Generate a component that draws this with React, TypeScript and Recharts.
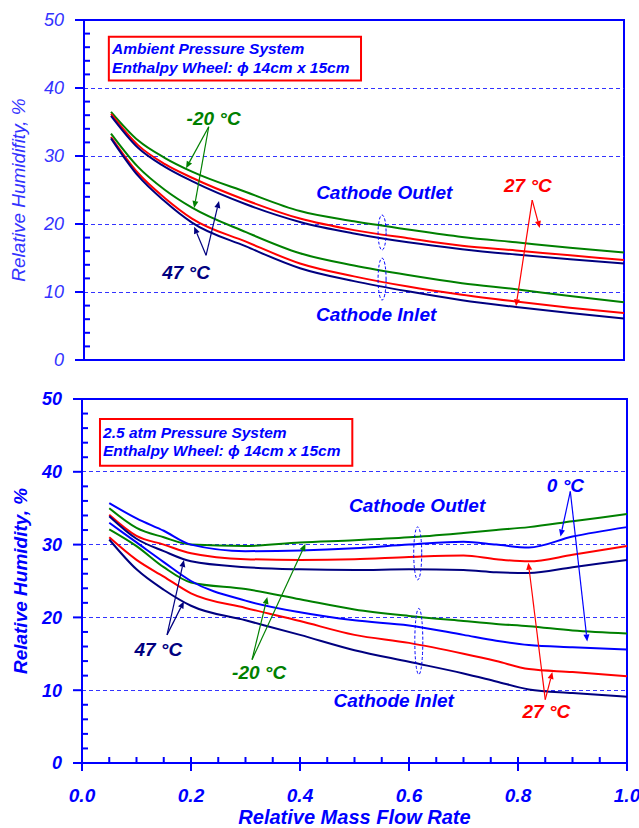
import React from "react";
import {
  LineChart,
  Line,
  XAxis,
  YAxis,
  ReferenceLine,
  ReferenceArea,
  ReferenceDot,
} from "recharts";

const BLUE = "#0000FF";
const LIGHT_BLUE = "#3333FF";
const GREEN = "#008000";
const RED = "#FF0000";
const NAVY = "#000080";
const FONT = "'Liberation Sans', Arial, Helvetica, sans-serif";

// axis ticks
const yTicks = [0, 2, 4, 6, 8, 10, 12, 14, 16, 18, 20, 22, 24, 26, 28, 30, 32, 34, 36, 38, 40, 42, 44, 46, 48, 50];
const xTicks = [0, 0.05, 0.1, 0.15, 0.2, 0.25, 0.3, 0.35, 0.4, 0.45, 0.5, 0.55, 0.6, 0.65, 0.7, 0.75, 0.8, 0.85, 0.9, 0.95, 1];
const gridValues = [10, 20, 30, 40];

// top panel: ambient pressure
const topX = [0.05, 0.1, 0.15, 0.2, 0.3, 0.4, 0.5, 0.6, 0.7, 0.8, 0.9, 1.0];
const topOutletM20 = [36.5, 32.3, 29.7, 27.7, 24.7, 21.9, 20.4, 19.2, 18.1, 17.3, 16.5, 15.8];
const topOutlet27 = [36.2, 31.6, 28.8, 26.8, 23.5, 20.8, 19.1, 17.9, 16.8, 16.1, 15.4, 14.7];
const topOutlet47 = [35.9, 31.2, 28.4, 26.3, 22.9, 20.3, 18.6, 17.3, 16.3, 15.5, 14.8, 14.2];
const topInletM20 = [33.3, 28.4, 25.0, 22.4, 18.8, 15.7, 13.9, 12.5, 11.3, 10.4, 9.4, 8.5];
const topInlet27 = [32.8, 27.5, 23.8, 20.8, 17.4, 14.2, 12.3, 10.8, 9.6, 8.6, 7.7, 6.9];
const topInlet47 = [32.6, 27.1, 23.3, 20.2, 16.7, 13.5, 11.6, 10.1, 8.8, 7.8, 6.9, 6.1];

// bottom panel: 2.5 atm
const botX = [0.05, 0.1, 0.15, 0.2, 0.3, 0.4, 0.5, 0.6, 0.7, 0.76, 0.82, 0.9, 1.0];
const botOutletM20 = [35.0, 32.3, 31.0, 30.0, 29.8, 30.3, 30.6, 31.0, 31.6, 32.0, 32.4, 33.2, 34.2];
const botOutlet0 = [35.7, 33.6, 31.9, 30.0, 29.1, 29.2, 29.5, 30.0, 30.4, 30.0, 29.6, 31.1, 32.4];
const botOutlet27 = [34.1, 31.2, 30.0, 28.8, 28.0, 27.9, 28.0, 28.3, 28.5, 28.0, 27.7, 28.6, 29.8];
const botOutlet47 = [33.9, 30.8, 29.1, 27.7, 26.9, 26.6, 26.5, 26.6, 26.5, 26.2, 26.1, 26.9, 27.9];
const botInletM20 = [32.1, 29.8, 26.9, 24.8, 23.9, 22.5, 21.1, 20.2, 19.5, 19.1, 18.8, 18.2, 17.8];
const botInlet0 = [33.0, 30.3, 27.6, 25.0, 22.3, 20.7, 19.6, 18.9, 17.6, 16.8, 16.2, 15.9, 15.6];
const botInlet27 = [31.0, 27.9, 25.6, 23.3, 21.3, 19.5, 17.6, 16.5, 15.0, 14.0, 12.9, 12.5, 11.9];
const botInlet47 = [30.7, 26.6, 23.8, 21.6, 19.6, 17.6, 15.5, 13.9, 12.3, 11.2, 10.1, 9.6, 9.1];

const topData = topX.map((x, i) => ({
  x,
  oM20: topOutletM20[i],
  o27: topOutlet27[i],
  o47: topOutlet47[i],
  iM20: topInletM20[i],
  i27: topInlet27[i],
  i47: topInlet47[i],
}));

const botData = botX.map((x, i) => ({
  x,
  oM20: botOutletM20[i],
  o0: botOutlet0[i],
  o27: botOutlet27[i],
  o47: botOutlet47[i],
  iM20: botInletM20[i],
  i0: botInlet0[i],
  i27: botInlet27[i],
  i47: botInlet47[i],
}));

// annotations (data coordinates)
const topLabels = [
  { x: 0.24, y: 35.6, text: "-20 °C", color: GREEN },
  { x: 0.189, y: 12.9, text: "47 °C", color: NAVY },
  { x: 0.822, y: 25.7, text: "27 °C", color: RED },
  { x: 0.556, y: 24.7, text: "Cathode Outlet", color: BLUE },
  { x: 0.541, y: 6.8, text: "Cathode Inlet", color: BLUE },
];
const topArrows = [
  { x1: 0.231, y1: 34.3, x2: 0.189, y2: 28.2, color: GREEN },
  { x1: 0.231, y1: 34.3, x2: 0.204, y2: 22.35, color: GREEN },
  { x1: 0.226, y1: 15.4, x2: 0.204, y2: 19.6, color: NAVY },
  { x1: 0.226, y1: 15.4, x2: 0.25, y2: 23.4, color: NAVY },
  { x1: 0.83, y1: 23.5, x2: 0.844, y2: 19.4, color: RED },
  { x1: 0.83, y1: 23.5, x2: 0.8, y2: 7.9, color: RED },
];
const topEllipses = [
  { x: 0.552, y: 18.75, ry: 17.5 },
  { x: 0.552, y: 11.9, ry: 21 },
];

const botLabels = [
  { x: 0.887, y: 38.1, text: "0 °C", color: BLUE },
  { x: 0.14, y: 15.6, text: "47 °C", color: NAVY },
  { x: 0.325, y: 12.5, text: "-20 °C", color: GREEN },
  { x: 0.852, y: 7.1, text: "27 °C", color: RED },
  { x: 0.615, y: 35.4, text: "Cathode Outlet", color: BLUE },
  { x: 0.572, y: 8.7, text: "Cathode Inlet", color: BLUE },
];
const botArrows = [
  { x1: 0.896, y1: 37.3, x2: 0.878, y2: 31.1, color: BLUE },
  { x1: 0.896, y1: 37.3, x2: 0.927, y2: 16.7, color: BLUE },
  { x1: 0.156, y1: 17.6, x2: 0.187, y2: 27.9, color: NAVY },
  { x1: 0.156, y1: 17.6, x2: 0.187, y2: 22.2, color: NAVY },
  { x1: 0.312, y1: 14.2, x2: 0.34, y2: 22.8, color: GREEN },
  { x1: 0.312, y1: 14.2, x2: 0.41, y2: 30.1, color: GREEN },
  { x1: 0.85, y1: 8.7, x2: 0.819, y2: 27.5, color: RED },
  { x1: 0.85, y1: 8.7, x2: 0.863, y2: 12.5, color: RED },
];
const botEllipses = [
  { x: 0.616, y: 28.8, ry: 26.5 },
  { x: 0.618, y: 16.7, ry: 33 },
];

const makeYTick = (bold: boolean, color: string) => (props: any) => {
  const { x, y, payload } = props;
  const v = payload.value;
  const major = v % 10 === 0;
  return (
    <g>
      <line
        x1={major ? x - 9 : x}
        x2={major ? x : x + 6}
        y1={y}
        y2={y}
        stroke={BLUE}
        strokeWidth={2}
      />
      {major && (
        <text
          x={x - 20}
          y={y}
          dy="0.36em"
          textAnchor="end"
          fill={color}
          fontSize={18}
          fontStyle="italic"
          fontWeight={bold ? "bold" : "normal"}
          fontFamily={FONT}
        >
          {v}
        </text>
      )}
    </g>
  );
};

const XTick = (props: any) => {
  const { x, y, payload } = props;
  const v = payload.value;
  const major = Math.round(v * 100) % 20 === 0;
  return (
    <g>
      <line x1={x} x2={x} y1={y - 6} y2={major ? y + 8 : y} stroke={BLUE} strokeWidth={2} />
      {major && (
        <text
          x={x}
          y={y + 32}
          dy="0.36em"
          textAnchor="middle"
          fill={BLUE}
          fontSize={19}
          fontStyle="italic"
          fontWeight="bold"
          fontFamily={FONT}
        >
          {v.toFixed(1)}
        </text>
      )}
    </g>
  );
};

const arrowShape = (color: string) => (p: any) => {
  const { x1, y1, x2, y2 } = p;
  const a = Math.atan2(y2 - y1, x2 - x1);
  const L = 7;
  const W = 3;
  const bx = x2 - L * Math.cos(a);
  const by = y2 - L * Math.sin(a);
  const pts = `${x2},${y2} ${bx - W * Math.sin(a)},${by + W * Math.cos(a)} ${bx + W * Math.sin(a)},${by - W * Math.cos(a)}`;
  return (
    <g>
      <line x1={x1} y1={y1} x2={bx} y2={by} stroke={color} strokeWidth={1.2} />
      <polygon points={pts} fill={color} />
    </g>
  );
};

const textShape = (text: string, color: string, size: number) => (p: any) => (
  <text
    x={p.cx}
    y={p.cy}
    dy="0.36em"
    textAnchor="middle"
    fill={color}
    fontSize={size}
    fontWeight="bold"
    fontStyle="italic"
    fontFamily={FONT}
  >
    {text}
  </text>
);

const boxTextShape = (lines: string[], gap: number) => (p: any) => (
  <text fill={BLUE} fontSize={15.5} fontWeight="bold" fontStyle="italic" fontFamily={FONT}>
    {lines.map((l, i) => (
      <tspan key={i} x={p.cx} y={p.cy + i * gap}>
        {l}
      </tspan>
    ))}
  </text>
);

const ellipseShape = (ry: number) => (p: any) => (
  <ellipse cx={p.cx} cy={p.cy} rx={4} ry={ry} fill="none" stroke={BLUE} strokeWidth={1} strokeDasharray="3 2" />
);

const TopChart: React.FC = () => (
  <LineChart width={639} height={380} data={topData} margin={{ top: 20, right: 15, bottom: 20, left: 0 }}>
    <XAxis dataKey="x" type="number" domain={[0, 1]} hide />
    <YAxis
      type="number"
      domain={[0, 50]}
      ticks={yTicks}
      interval={0}
      width={84}
      tickSize={0}
      tickMargin={0}
      tickLine={false}
      axisLine={{ stroke: BLUE, strokeWidth: 2 }}
      tick={makeYTick(false, LIGHT_BLUE)}
      label={{
        value: "Relative Humidifity, %",
        angle: -90,
        position: "insideLeft",
        offset: 18,
        fill: LIGHT_BLUE,
        fontSize: 19,
        fontStyle: "italic",
        fontFamily: FONT,
        style: { textAnchor: "middle" },
      }}
    />
    <ReferenceArea x1={0} x2={1} y1={0} y2={50} fill="none" fillOpacity={0} stroke={BLUE} strokeWidth={2} />
    {gridValues.map((v) => (
      <ReferenceLine key={v} y={v} stroke={LIGHT_BLUE} strokeDasharray="4 3" strokeWidth={1} shapeRendering="crispEdges" />
    ))}
    <ReferenceArea x1={0.046} x2={0.513} y1={41.1} y2={47.55} fill="#FFFFFF" fillOpacity={1} stroke={RED} strokeWidth={2} />
    <ReferenceDot x={0.052} y={45.0} shape={boxTextShape(["Ambient Pressure System", "Enthalpy Wheel: ϕ 14cm x 15cm"], 19)} />
    <Line type="monotone" dataKey="oM20" stroke={GREEN} strokeWidth={2} dot={false} isAnimationActive={false} />
    <Line type="monotone" dataKey="o27" stroke={RED} strokeWidth={2} dot={false} isAnimationActive={false} />
    <Line type="monotone" dataKey="o47" stroke={NAVY} strokeWidth={2} dot={false} isAnimationActive={false} />
    <Line type="monotone" dataKey="iM20" stroke={GREEN} strokeWidth={2} dot={false} isAnimationActive={false} />
    <Line type="monotone" dataKey="i27" stroke={RED} strokeWidth={2} dot={false} isAnimationActive={false} />
    <Line type="monotone" dataKey="i47" stroke={NAVY} strokeWidth={2} dot={false} isAnimationActive={false} />
    {topEllipses.map((e, i) => (
      <ReferenceDot key={"e" + i} x={e.x} y={e.y} shape={ellipseShape(e.ry)} />
    ))}
    {topArrows.map((a, i) => (
      <ReferenceLine key={"a" + i} segment={[{ x: a.x1, y: a.y1 }, { x: a.x2, y: a.y2 }]} shape={arrowShape(a.color)} />
    ))}
    {topLabels.map((l, i) => (
      <ReferenceDot key={"l" + i} x={l.x} y={l.y} shape={textShape(l.text, l.color, 19)} />
    ))}
  </LineChart>
);

const BottomChart: React.FC = () => (
  <LineChart width={639} height={449} data={botData} margin={{ top: 20, right: 12, bottom: 0, left: 0 }}>
    <XAxis
      dataKey="x"
      type="number"
      domain={[0, 1]}
      ticks={xTicks}
      interval={0}
      height={65}
      tickSize={0}
      tickMargin={0}
      tickLine={false}
      axisLine={{ stroke: BLUE, strokeWidth: 2 }}
      tick={XTick}
      label={{
        value: "Relative Mass Flow Rate",
        position: "insideBottom",
        offset: 4,
        fill: BLUE,
        fontSize: 20,
        fontWeight: "bold",
        fontStyle: "italic",
        fontFamily: FONT,
      }}
    />
    <YAxis
      type="number"
      domain={[0, 50]}
      ticks={yTicks}
      interval={0}
      width={82}
      tickSize={0}
      tickMargin={0}
      tickLine={false}
      axisLine={{ stroke: BLUE, strokeWidth: 2 }}
      tick={makeYTick(true, BLUE)}
      label={{
        value: "Relative Humidity, %",
        angle: -90,
        position: "insideLeft",
        offset: 20,
        fill: BLUE,
        fontSize: 19,
        fontWeight: "bold",
        fontStyle: "italic",
        fontFamily: FONT,
        style: { textAnchor: "middle" },
      }}
    />
    <ReferenceArea x1={0} x2={1} y1={0} y2={50} fill="none" fillOpacity={0} stroke={BLUE} strokeWidth={2} />
    {gridValues.map((v) => (
      <ReferenceLine key={v} y={v} stroke={LIGHT_BLUE} strokeDasharray="4 3" strokeWidth={1} shapeRendering="crispEdges" />
    ))}
    <ReferenceArea x1={0.033} x2={0.496} y1={40.84} y2={47.25} fill="#FFFFFF" fillOpacity={1} stroke={RED} strokeWidth={2} />
    <ReferenceDot x={0.0386} y={44.7} shape={boxTextShape(["2.5 atm Pressure System", "Enthalpy Wheel: ϕ 14cm x 15cm"], 18)} />
    <Line type="monotone" dataKey="oM20" stroke={GREEN} strokeWidth={2} dot={false} isAnimationActive={false} />
    <Line type="monotone" dataKey="o0" stroke={BLUE} strokeWidth={2} dot={false} isAnimationActive={false} />
    <Line type="monotone" dataKey="o27" stroke={RED} strokeWidth={2} dot={false} isAnimationActive={false} />
    <Line type="monotone" dataKey="o47" stroke={NAVY} strokeWidth={2} dot={false} isAnimationActive={false} />
    <Line type="monotone" dataKey="iM20" stroke={GREEN} strokeWidth={2} dot={false} isAnimationActive={false} />
    <Line type="monotone" dataKey="i0" stroke={BLUE} strokeWidth={2} dot={false} isAnimationActive={false} />
    <Line type="monotone" dataKey="i27" stroke={RED} strokeWidth={2} dot={false} isAnimationActive={false} />
    <Line type="monotone" dataKey="i47" stroke={NAVY} strokeWidth={2} dot={false} isAnimationActive={false} />
    {botEllipses.map((e, i) => (
      <ReferenceDot key={"e" + i} x={e.x} y={e.y} shape={ellipseShape(e.ry)} />
    ))}
    {botArrows.map((a, i) => (
      <ReferenceLine key={"a" + i} segment={[{ x: a.x1, y: a.y1 }, { x: a.x2, y: a.y2 }]} shape={arrowShape(a.color)} />
    ))}
    {botLabels.map((l, i) => (
      <ReferenceDot key={"l" + i} x={l.x} y={l.y} shape={textShape(l.text, l.color, 19)} />
    ))}
  </LineChart>
);

export default function App() {
  return (
    <div style={{ position: "absolute", left: 0, top: 0, width: 639, height: 828, background: "#FFFFFF" }}>
      <div style={{ position: "absolute", left: 0, top: 0 }}>
        <TopChart />
      </div>
      <div style={{ position: "absolute", left: 0, top: 379 }}>
        <BottomChart />
      </div>
    </div>
  );
}
